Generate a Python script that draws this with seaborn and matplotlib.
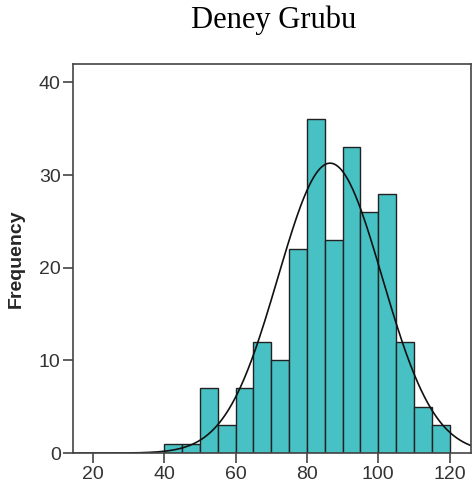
import numpy as np
import pandas as pd
import matplotlib
matplotlib.use('Agg')
import matplotlib.pyplot as plt
import seaborn as sns

# bins (lower edge) and frequencies
bin_starts = [40, 45, 50, 55, 60, 65, 70, 75, 80, 85, 90, 95, 100, 105, 110, 115]
counts = [1, 1, 7, 3, 7, 12, 10, 22, 36, 23, 33, 26, 28, 12, 5, 3]
BIN_W = 5

# normal curve parameters (estimated from the drawn curve)
curve_mean = 86.5
curve_sd = 14.6

x_ticks = [20, 40, 60, 80, 100, 120]
y_ticks = [0, 10, 20, 30, 40]

sns.set_style('white')
plt.rcParams['font.family'] = ['Liberation Sans', 'DejaVu Sans']

df = pd.DataFrame({'score': np.array(bin_starts) + BIN_W / 2, 'n': counts})
edges = list(bin_starts) + [bin_starts[-1] + BIN_W]

fig = plt.figure(figsize=(4.72, 4.99), dpi=100)
ax = fig.add_axes([0.155, 0.092, 0.843, 0.780])

sns.histplot(data=df, x='score', weights='n', bins=edges, color='#47C1C4',
             edgecolor='#222222', linewidth=1.0, alpha=1, ax=ax)

# normal curve scaled to counts
xs = np.linspace(14, 126, 400)
total = sum(counts)
ys = total * BIN_W / (curve_sd * np.sqrt(2 * np.pi)) * np.exp(-0.5 * ((xs - curve_mean) / curve_sd) ** 2)
sns.lineplot(x=xs, y=ys, color='#111111', linewidth=1.2, ax=ax)

ax.set_xlim(14.5, 126)
ax.set_ylim(0, 42)
ax.set_xticks(x_ticks)
ax.set_yticks(y_ticks)
ax.tick_params(axis='both', direction='out', length=7, width=1.2, color='#444444',
               labelsize=14, labelcolor='#333333', bottom=True, left=True, pad=2)
ax.set_xlabel('')
ax.set_ylabel('Frequency', fontsize=14, fontweight='bold', labelpad=10)
for s in ax.spines.values():
    s.set_color('#444444')
    s.set_linewidth(1.2)

fig.text(0.58, 0.943, 'Deney Grubu', ha='center', va='baseline', fontsize=22,
         color='black', family=['Liberation Serif', 'DejaVu Serif'])

fig.savefig('out.png', dpi=100)
